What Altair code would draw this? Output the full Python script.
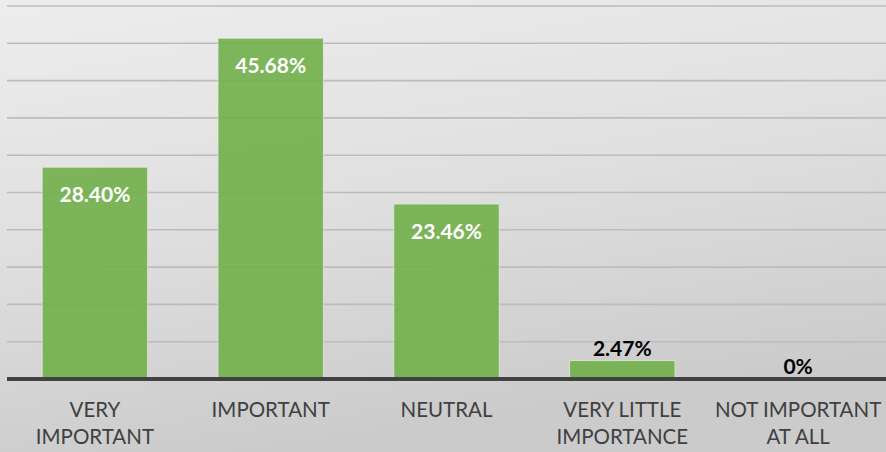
import altair as alt
import pandas as pd

categories = ["VERY|IMPORTANT", "IMPORTANT", "NEUTRAL", "VERY LITTLE|IMPORTANCE", "NOT IMPORTANT|AT ALL"]
values = [28.40, 45.68, 23.46, 2.47, 0.0]
value_labels = ["28.40%", "45.68%", "23.46%", "2.47%", "0%"]
grid_values = [5, 10, 15, 20, 25, 30, 35, 40, 45, 50]

df = pd.DataFrame({"cat": categories, "val": values, "lab": value_labels})
grid_df = pd.DataFrame({"g": grid_values})

W, H = 879, 373

x_enc = alt.X("cat:N", sort=categories, title=None,
              scale=alt.Scale(paddingInner=0.4, paddingOuter=0.2),
              axis=alt.Axis(labelExpr="split(datum.label, '|')", labelAngle=0,
                            labelFont="Lato", labelFontSize=20.5, labelColor="#404040",
                            labelPadding=21, labelLineHeight=27, ticks=False,
                            domain=False, labelBaseline="top", zindex=1))
y_scale = alt.Scale(domain=[0, 50], nice=False)

bg = alt.Chart(df).mark_rect(
    color=alt.LinearGradient(gradient="linear", x1=0, y1=0, x2=0.3, y2=1,
                             stops=[alt.GradientStop(color="#ededed", offset=0),
                                    alt.GradientStop(color="#e0e0e0", offset=0.5),
                                    alt.GradientStop(color="#cbcbcb", offset=1)])
).encode(x=alt.value(-7), x2=alt.value(W), y=alt.value(-6), y2=alt.value(H + 73))

grid = alt.Chart(grid_df).mark_rule(color="#bcbcbc", strokeWidth=1.6).encode(
    y=alt.Y("g:Q", scale=y_scale, axis=None))

bars = alt.Chart(df).mark_bar(color="#72b04c", opacity=0.9, stroke="#e6f0dd",
                              strokeWidth=1, strokeOpacity=0.8).encode(
    x=x_enc,
    y=alt.Y("val:Q", scale=y_scale, axis=None))

base_line = alt.Chart(df).mark_rule(color="#404040", strokeWidth=3).encode(
    y=alt.value(H))

inside = alt.Chart(df).transform_filter("datum.val > 10").mark_text(
    font="Lato", fontSize=21, fontWeight="bold", color="white", baseline="top", dy=18
).encode(x=alt.X("cat:N", sort=categories), y=alt.Y("val:Q", scale=y_scale), text="lab:N")

outside = alt.Chart(df).transform_filter("datum.val <= 10").mark_text(
    font="Lato", fontSize=21, fontWeight="bold", color="black", baseline="bottom", dy=-1
).encode(x=alt.X("cat:N", sort=categories), y=alt.Y("val:Q", scale=y_scale), text="lab:N")

chart = alt.layer(bg, grid, bars, base_line, inside, outside).properties(
    width=W, height=H,
    autosize=alt.AutoSizeParams(type="none"),
    padding={"left": 7, "top": 6, "right": 0, "bottom": 73},
    background="#d8d8d8"
).configure_view(stroke=None)

chart.save("out.html", embed_options={"renderer": "svg", "actions": False})
